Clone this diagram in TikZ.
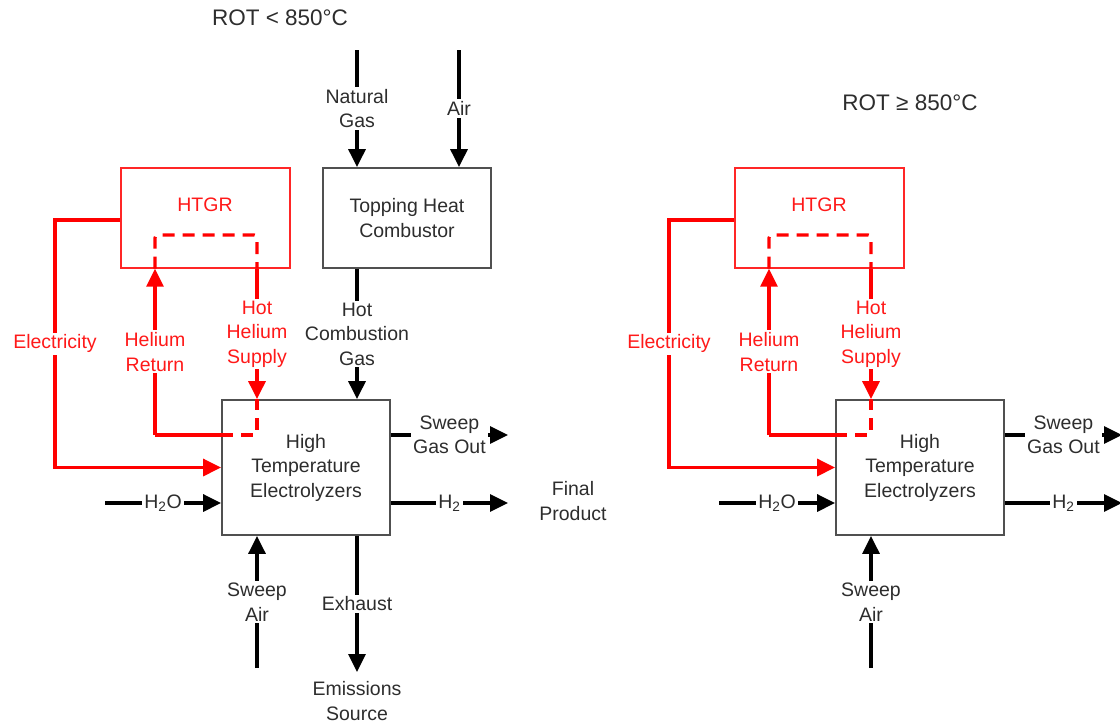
\documentclass[tikz,border=0pt]{standalone}
\usepackage{fontspec}
\setmainfont{Liberation Sans}
\usetikzlibrary{arrows.meta}

\definecolor{heat}{RGB}{255,0,0}
\definecolor{edge}{RGB}{80,80,80}
\definecolor{ink}{RGB}{45,45,45}

\tikzset{
  procbox/.style={draw=edge, line width=1.8pt, minimum width=168pt, minimum height=#1, inner sep=0pt, align=center},
  reactbox/.style={draw=heat!85, line width=1.4pt, minimum width=169pt, minimum height=100pt, inner sep=0pt},
  flow/.style={line width=3.2pt, -{Triangle[length=18pt,width=17pt]}},
  heflow/.style={flow, heat},
  hepipe/.style={line width=3.2pt, heat},
  lbl/.style={fill=white, inner sep=2pt, align=center},
  redlbl/.style={lbl, text=heat!90},
  title/.style={font=\fontsize{22.5}{27}\selectfont},
}

\begin{document}
\begin{tikzpicture}[x=1pt, y=-1pt, font=\fontsize{19.5}{24.5}\selectfont, text=ink]
  \useasboundingbox (0,0) rectangle (1120,724);

  % both layouts share the reactor / electrolyzer loop
  \foreach \p/\dx in {L/0, R/614} {
    \node[reactbox] (\p htgr) at (\dx+205.5,218) {};
    \node[text=heat!90] (\p htgrlbl) at (\dx+205,205) {HTGR};
    \node[procbox=135pt] (\p hte) at (\dx+306,467.5) {High\\Temperature\\Electrolyzers};

    \coordinate (\p ret) at (\dx+155,435);
    \coordinate (\p sup) at (\dx+257,235);
    \coordinate (\p el) at (\dx+55,220);
    \coordinate (\p h2o) at (\dx+105,503);
    \coordinate (\p hout) at (\dx+508,503);
    \coordinate (\p air) at (\dx+257,668);

    % helium loop
    \draw[hepipe, dash pattern=on 12pt off 8pt, rounded corners=3pt]
      (\p htgr.south -| \p ret) |- (\p sup) -- (\p htgr.south -| \p sup);
    \draw[heflow] (\p ret) -- node[redlbl] {Helium\\Return} (\p htgr.south -| \p ret);
    \draw[heflow] (\p htgr.south -| \p sup) -- node[redlbl] {Hot\\Helium\\Supply} (\p hte.north -| \p sup);
    \draw[hepipe] (\p ret) -- (\p hte.west |- \p ret);
    \draw[hepipe, dash pattern=on 12pt off 8pt, rounded corners=3pt]
      (\p hte.west |- \p ret) -| (\p hte.north -| \p sup);

    \draw[heflow] (\p htgr.west |- \p el) -- (\p el)
      -- node[redlbl] {Electricity} (\p el |- \p hte.west) -- (\p hte.west);

    \draw[flow] (\p h2o) -- node[lbl] {H\textsubscript{2}O} (\p hte.west |- \p h2o);
    \draw[flow] (\p hte.east |- \p hout) -- node[lbl] {H\textsubscript{2}} (\p hout);
    \draw[flow] (\p hte.east |- \p ret) -- node[lbl] {Sweep\\Gas Out} (\p hout |- \p ret);
    \draw[flow] (\p air) -- node[lbl] {Sweep\\Air} (\p hte.south -| \p air);
  }

  % topping heat only below 850 C
  \node[title] (rotlow) at (280,18) {ROT < 850°C};
  \node[title] (rothigh) at (910,103) {ROT ≥ 850°C};
  \node[procbox=100pt] (comb) at (407,218) {Topping Heat\\Combustor};

  \coordinate (ng) at (357,50);
  \coordinate (ca) at (459,50);
  \coordinate (exh) at (357,672);

  \draw[flow] (ng) -- node[lbl] {Natural\\Gas} (comb.north -| ng);
  \draw[flow] (ca) -- node[lbl] {Air} (comb.north -| ca);
  \draw[flow] (comb.south -| ng) -- node[lbl] {Hot\\Combustion\\Gas} (Lhte.north -| ng);
  \draw[flow] (Lhte.south -| exh) -- node[lbl] {Exhaust} (exh);

  \node[align=center] (prod) at (573,501) {Final\\Product};
  \node[align=center] (emis) at (357,701) {Emissions\\Source};
\end{tikzpicture}
\end{document}
